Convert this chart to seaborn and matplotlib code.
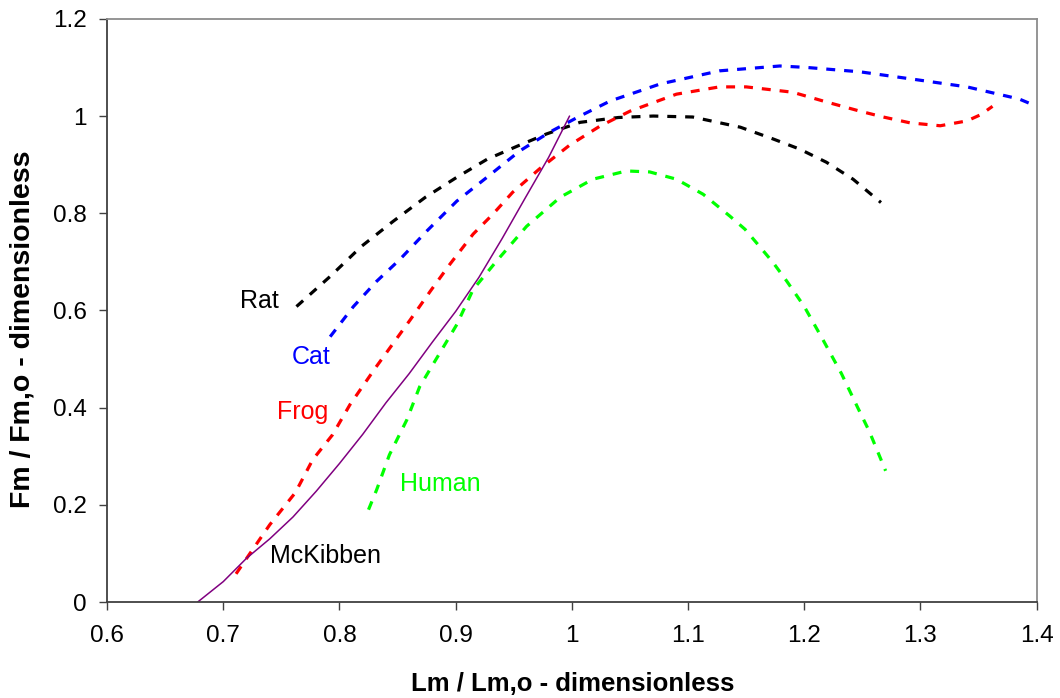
import matplotlib
matplotlib.use("Agg")
import matplotlib.pyplot as plt
import seaborn as sns
import pandas as pd

# Normalised force-length curves (Lm/Lm,o vs Fm/Fm,o)
rat_x = [0.763, 0.792, 0.819, 0.846, 0.874, 0.901, 0.927, 0.953, 0.978, 1.007,
         1.040, 1.070, 1.104, 1.145, 1.173, 1.196, 1.219, 1.242, 1.266]
rat_y = [0.608, 0.670, 0.732, 0.783, 0.833, 0.874, 0.911, 0.938, 0.963, 0.987,
         0.997, 1.000, 0.998, 0.977, 0.953, 0.932, 0.905, 0.870, 0.822]

cat_x = [0.792, 0.812, 0.832, 0.852, 0.875, 0.901, 0.928, 0.955, 0.981, 1.007,
         1.033, 1.076, 1.127, 1.179, 1.202, 1.248, 1.293, 1.340, 1.385, 1.400]
cat_y = [0.546, 0.608, 0.660, 0.705, 0.763, 0.825, 0.876, 0.928, 0.967, 1.000,
         1.031, 1.066, 1.093, 1.103, 1.100, 1.091, 1.076, 1.060, 1.035, 1.020]

frog_x = [0.711, 0.723, 0.740, 0.762, 0.777, 0.794, 0.809, 0.831, 0.861, 0.878,
          0.895, 0.915, 0.932, 0.949, 0.972, 0.998, 1.024, 1.050, 1.090, 1.127,
          1.150, 1.190, 1.219, 1.248, 1.268, 1.291, 1.317, 1.340, 1.352, 1.362]
frog_y = [0.058, 0.100, 0.159, 0.225, 0.293, 0.344, 0.406, 0.482, 0.581, 0.639,
          0.695, 0.757, 0.798, 0.843, 0.891, 0.940, 0.979, 1.010, 1.045, 1.060,
          1.060, 1.049, 1.029, 1.010, 0.998, 0.986, 0.980, 0.990, 1.003, 1.020]

human_x = [0.825, 0.832, 0.843, 0.858, 0.869, 0.884, 0.901, 0.915, 0.935, 0.961,
           0.990, 1.018, 1.047, 1.067, 1.090, 1.113, 1.136, 1.149, 1.160, 1.173,
           1.185, 1.200, 1.216, 1.232, 1.246, 1.256, 1.270]
human_y = [0.190, 0.231, 0.303, 0.375, 0.443, 0.503, 0.571, 0.643, 0.701, 0.773,
           0.833, 0.870, 0.887, 0.885, 0.870, 0.839, 0.794, 0.767, 0.736, 0.699,
           0.660, 0.608, 0.540, 0.470, 0.400, 0.351, 0.270]

mckibben_x = [0.678, 0.700, 0.720, 0.740, 0.760, 0.780, 0.800, 0.820, 0.840,
              0.860, 0.880, 0.900, 0.920, 0.940, 0.960, 0.980, 0.998]
mckibben_y = [0.000, 0.042, 0.090, 0.130, 0.175, 0.228, 0.285, 0.345, 0.410,
              0.470, 0.535, 0.598, 0.668, 0.748, 0.832, 0.915, 1.000]

x_ticks = [0.6, 0.7, 0.8, 0.9, 1.0, 1.1, 1.2, 1.3, 1.4]
x_tick_labels = ["0.6", "0.7", "0.8", "0.9", "1", "1.1", "1.2", "1.3", "1.4"]
y_ticks = [0, 0.2, 0.4, 0.6, 0.8, 1.0, 1.2]
y_tick_labels = ["0", "0.2", "0.4", "0.6", "0.8", "1", "1.2"]

sns.set_theme(style="white")
plt.rcParams["font.family"] = ["Liberation Sans", "DejaVu Sans"]

fig = plt.figure(figsize=(10.6, 6.98), dpi=100)
ax = fig.add_axes([0.101, 0.1375, 0.877, 0.8355])

dash = (0, (2.8, 2.8))
series = [
    (rat_x, rat_y, "#000000"),
    (cat_x, cat_y, "#0000FF"),
    (frog_x, frog_y, "#FF0000"),
    (human_x, human_y, "#00FF00"),
]
for xs, ys, col in series:
    df = pd.DataFrame({"x": xs, "y": ys})
    sns.lineplot(data=df, x="x", y="y", sort=False, estimator=None, ax=ax,
                 color=col, linewidth=2.3, linestyle=dash)

mk = pd.DataFrame({"x": mckibben_x, "y": mckibben_y})
sns.lineplot(data=mk, x="x", y="y", sort=False, estimator=None, ax=ax,
             color="#800080", linewidth=1.1)

# Curve labels
fs = 18
ax.text(0.731, 0.619, "Rat", color="#000000", fontsize=fs, ha="center", va="center")
ax.text(0.7755, 0.504, "Cat", color="#0000FF", fontsize=fs, ha="center", va="center")
ax.text(0.768, 0.391, "Frog", color="#FF0000", fontsize=fs, ha="center", va="center")
ax.text(0.887, 0.243, "Human", color="#00FF00", fontsize=fs, ha="center", va="center")
ax.text(0.788, 0.094, "McKibben", color="#000000", fontsize=fs, ha="center", va="center")

ax.set_xlim(0.6, 1.4)
ax.set_ylim(0, 1.2)
ax.set_xticks(x_ticks)
ax.set_xticklabels(x_tick_labels, fontsize=17.5, color="black")
ax.set_yticks(y_ticks)
ax.set_yticklabels(y_tick_labels, fontsize=17.5, color="black")
ax.tick_params(axis="both", direction="out", length=5.5, width=1.0,
               color="#404040", left=True, bottom=True)
ax.tick_params(axis="x", pad=11)
ax.tick_params(axis="y", pad=9)

for side in ["left", "bottom"]:
    ax.spines[side].set_color("#404040")
    ax.spines[side].set_linewidth(1.3)
for side in ["top", "right"]:
    ax.spines[side].set_color("#8c8c8c")
    ax.spines[side].set_linewidth(1.3)

ax.set_xlabel("Lm / Lm,o - dimensionless", fontsize=18.5, fontweight="bold", color="black")
ax.set_ylabel("Fm / Fm,o - dimensionless", fontsize=20.5, fontweight="bold", color="black")
ax.xaxis.set_label_coords(0.501, -0.12)
ax.yaxis.set_label_coords(-0.077, 0.467)
ax.grid(False)

fig.savefig("out.png", dpi=100, facecolor="white")
